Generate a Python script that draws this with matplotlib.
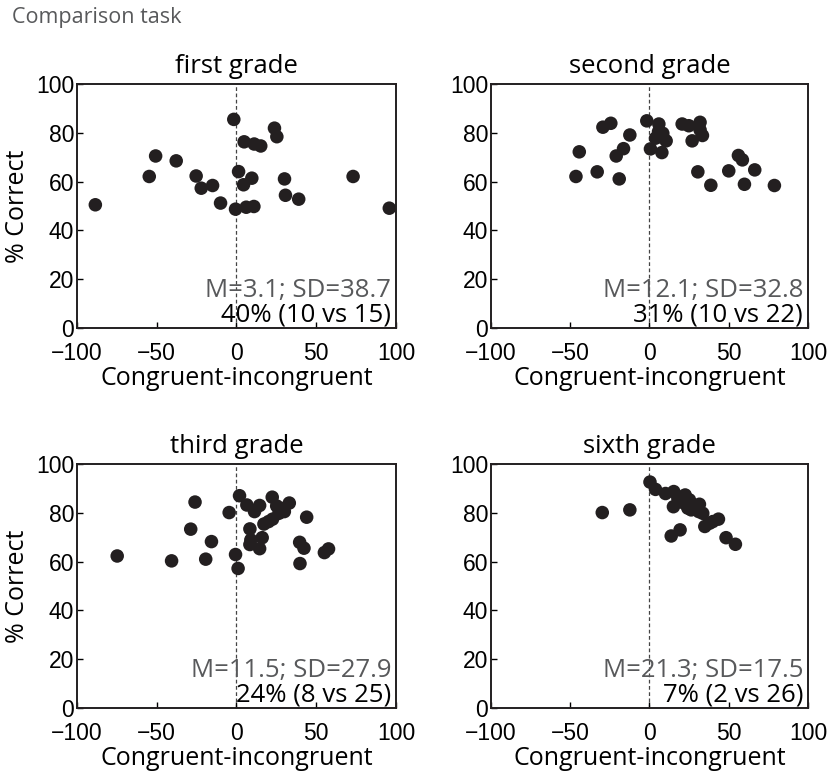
import matplotlib
matplotlib.use('Agg')
import matplotlib.pyplot as plt

DOT = "#231f20"
GREY_TXT = "#58595b"

# data: x = congruent-incongruent, y = % correct
first_x = [-88.5, -54.7, -50.7, -37.8, -25.3, -22.1, -15.0, -10.0, -1.7, 1.3,
           -0.6, 4.4, 4.8, 6.1, 9.6, 10.9, 11.1, 15.2, 23.8, 25.3,
           30.1, 30.7, 39.0, 73.1, 95.8]
first_y = [50.5, 62.1, 70.5, 68.5, 62.3, 57.3, 58.4, 51.2, 85.5, 64.1,
           48.7, 58.7, 76.3, 49.5, 61.4, 49.8, 75.4, 74.6, 81.9, 78.4,
           61.1, 54.4, 52.8, 62.1, 49.1]

second_x = [-46.4, -44.3, -33.0, -29.4, -24.4, -21.0, -19.1, -16.4, -12.4, -1.7,
            0.6, 5.9, 3.8, 8.4, 7.1, 10.5, 7.8, 5.7, 20.6, 24.8,
            26.9, 31.9, 31.9, 33.4, 30.5, 38.7, 50.0, 56.1, 58.6, 59.9,
            66.4, 78.8]
second_y = [62.1, 72.2, 64.0, 82.3, 83.9, 70.5, 61.1, 73.5, 79.1, 84.9,
            73.4, 83.6, 77.8, 79.8, 78.4, 76.7, 71.9, 80.5, 83.6, 82.9,
            76.7, 84.3, 81.2, 78.9, 64.0, 58.5, 64.4, 70.7, 68.9, 58.9,
            64.8, 58.4]

third_x = [-74.8, -40.7, -28.7, -26.0, -19.3, -15.7, -4.6, -0.6, 1.0, 1.9,
           6.5, 8.4, 9.0, 8.4, 11.3, 14.5, 16.1, 14.5, 17.2, 20.1,
           22.4, 22.6, 25.2, 26.6, 30.0, 33.1, 39.6, 42.3, 39.8, 44.0,
           55.1, 57.7, 27.9]
third_y = [62.3, 60.3, 73.3, 84.4, 61.0, 68.2, 80.1, 62.9, 57.2, 87.0,
           83.2, 73.4, 68.9, 67.0, 80.5, 83.0, 69.8, 65.3, 75.4, 76.4,
           86.4, 77.4, 82.8, 79.8, 80.5, 84.0, 67.9, 65.5, 59.2, 78.2,
           63.7, 65.2, 81.8]

sixth_x = [-29.8, -12.4, 0.3, 3.8, 10.1, 15.3, 15.1, 13.7, 19.3, 21.0,
           22.5, 24.2, 25.2, 27.7, 31.5, 31.1, 33.6, 34.9, 39.9, 43.5,
           48.3, 54.2, 17.9, 23.1, 26.3, 29.4, 21.0, 37.8]
sixth_y = [80.1, 81.2, 92.6, 89.6, 87.9, 88.7, 82.5, 70.5, 73.0, 86.6,
           87.3, 81.9, 85.3, 83.2, 83.5, 80.5, 79.8, 74.4, 76.4, 77.4,
           69.8, 67.1, 85.9, 83.9, 81.2, 81.9, 84.2, 75.7]

titles = ["first grade", "second grade", "third grade", "sixth grade"]
stats = ["M=3.1; SD=38.7", "M=12.1; SD=32.8", "M=11.5; SD=27.9", "M=21.3; SD=17.5"]
counts = ["40% (10 vs 15)", "31% (10 vs 22)", "24% (8 vs 25)", "7% (2 vs 26)"]
xs = [first_x, second_x, third_x, sixth_x]
ys = [first_y, second_y, third_y, sixth_y]

W, H = 829, 778
fig = plt.figure(figsize=(W / 100, H / 100), dpi=100)

# axes boxes in pixels: left, top, right, bottom
boxes = [(77, 84, 396, 328), (491, 84, 808, 328),
         (77, 464, 396, 708), (491, 464, 808, 708)]

LBL = ['Open Sans', 'DejaVu Sans']
TCK = 'Liberation Sans'

fig.text(12 / W, 1 - 18 / H, "Comparison task", fontsize=15.5, color=GREY_TXT,
         family=LBL, ha='left', va='center')

for i, (l, t, r, b) in enumerate(boxes):
    ax = fig.add_axes([l / W, 1 - b / H, (r - l) / W, (b - t) / H])
    ax.axvline(0, color='#444444', linestyle=(0, (3, 2)), linewidth=0.9, zorder=1)
    ax.scatter(xs[i], ys[i], s=95, color=DOT, edgecolors='none', zorder=3)
    ax.set_xlim(-100, 100)
    ax.set_ylim(0, 100)
    ax.set_xticks([-100, -50, 0, 50, 100])
    ax.set_yticks([0, 20, 40, 60, 80, 100])
    ax.set_xticklabels(['\u2212100', '\u221250', '0', '50', '100'])
    ax.tick_params(direction='in', length=4, width=1, labelsize=16.5,
                   top=False, right=False)
    ax.tick_params(axis='x', pad=10)
    ax.tick_params(axis='y', pad=2)
    for lab in ax.get_xticklabels() + ax.get_yticklabels():
        lab.set_family(TCK)
    for sp in ax.spines.values():
        sp.set_linewidth(1.4)
        sp.set_color('#231f20')
    ax.set_title(titles[i], fontsize=18.5, family=LBL, pad=8)
    ax.set_xlabel("Congruent-incongruent", fontsize=18, family=LBL, labelpad=1)
    if i % 2 == 0:
        ax.set_ylabel("% Correct", fontsize=18, family=LBL, labelpad=4)
    ax.text(0.985, 0.125, stats[i], transform=ax.transAxes, ha='right', va='baseline',
            fontsize=18.5, color=GREY_TXT, family=LBL)
    ax.text(0.985, 0.025, counts[i], transform=ax.transAxes, ha='right', va='baseline',
            fontsize=18.5, color='black', family=LBL)

plt.savefig("out.png", dpi=100)
plt.close()
